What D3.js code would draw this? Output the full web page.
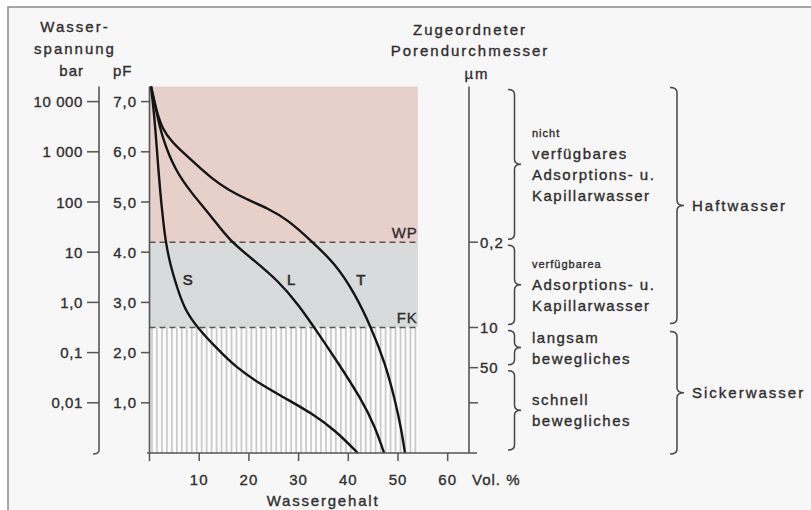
<!DOCTYPE html>
<html>
<head>
<meta charset="utf-8">
<script src="https://cdnjs.cloudflare.com/ajax/libs/d3/7.8.5/d3.min.js"></script>
<style>
  body { margin: 0; background: #ffffff; }
  svg text { font-family: "Liberation Sans", Arial, sans-serif; fill: #2e2e2e; stroke: #2e2e2e; stroke-width: 0.35px; }
</style>
</head>
<body>
<div id="container"></div>
<script>
// ---- data ----
var pfTicks = [7, 6, 5, 4, 3, 2, 1];
var pfLabels = ["7,0", "6,0", "5,0", "4.0", "3,0", "2,0", "1,0"];
var barLabels = ["10 000", "1 000", "100", "10", "1,0", "0,1", "0,01"];
var volTicks = [0, 10, 20, 30, 40, 50, 60];
var volLabels = ["", "10", "20", "30", "40", "50", "60"];
var poreTicks = [4.2, 2.5, 1.7, 1.0];
var poreLabels = ["0,2", "10", "50", ""];

var topPF = 7.3, wpPF = 4.2, fkPF = 2.5, shadeVol = 54;

// water content (Vol.%) vs pF
var curveS = [[0.3, 7.3], [0.9, 6.8], [1.45, 6.1], [2.1, 5.24], [2.8, 4.58], [3.25, 4.22], [4.1, 3.78],
  [5.5, 3.31], [7.1, 2.85], [9.8, 2.48], [13.2, 2.12], [17.2, 1.72], [22.6, 1.35], [27.9, 1.06],
  [32.6, 0.79], [37.3, 0.46], [41.9, 0]];
var curveL = [[0.3, 7.3], [1.4, 6.8], [2.5, 6.3], [5.1, 5.64], [8.5, 5.17], [12.5, 4.71], [16.0, 4.24],
  [21.0, 3.84], [26.0, 3.42], [30.0, 2.95], [33.3, 2.48], [38.0, 1.79], [42.7, 1.06], [45.4, 0.52], [47.2, 0]];
var curveT = [[0.3, 7.3], [1.4, 6.82], [2.6, 6.45], [4.5, 6.2], [6.8, 5.98], [9.15, 5.77], [12.5, 5.47], [15.9, 5.24],
  [19.2, 5.07], [23.9, 4.87], [27.9, 4.64], [32.6, 4.22], [37.3, 3.78], [41.3, 3.18], [44.7, 2.48],
  [47.4, 1.79], [49.4, 1.06], [50.7, 0.46], [51.4, 0]];
var curveNames = ["S", "L", "T"];
var curveLabelPos = [[7.7, 3.45], [28.5, 3.45], [42.5, 3.45]];

var innerBraces = [[topPF, wpPF], [wpPF, fkPF], [fkPF, 1.7], [1.7, 0]];
var innerTexts = [["nicht", "verfügbares", "Adsorptions- u.", "Kapillarwasser"],
  ["verfügbarea", "Adsorptions- u.", "Kapillarwasser"],
  ["langsam", "bewegliches"],
  ["schnell", "bewegliches"]];
var smallLines = ["nicht", "verfügbarea"];
var outerBraces = [[topPF, fkPF], [fkPF, 0]];
var outerTexts = ["Haftwasser", "Sickerwasser"];

// ---- canvas ----
var svg = d3.select("#container").append("svg")
  .attr("width", 811).attr("height", 510);

svg.append("rect").attr("x", 8).attr("y", 7).attr("width", 803).attr("height", 503)
  .attr("fill", "#f8f7f7");
svg.append("path").attr("d", "M8,510 L8,7 L811,7")
  .attr("fill", "none").attr("stroke", "#8a8a8a").attr("stroke-width", 1.5);

var x = d3.scaleLinear().domain([0, 60]).range([149.5, 447.7]);
var y = d3.scaleLinear().domain([0, 7]).range([453, 101.6]);

// ---- shaded zones ----
svg.append("rect").attr("x", x(0)).attr("y", y(topPF))
  .attr("width", x(shadeVol) - x(0)).attr("height", y(wpPF) - y(topPF))
  .attr("fill", "#e8d0ca");
svg.append("rect").attr("x", x(0)).attr("y", y(wpPF))
  .attr("width", x(shadeVol) - x(0)).attr("height", y(fkPF) - y(wpPF))
  .attr("fill", "#d8dbdb");
svg.append("rect").attr("x", x(0)).attr("y", y(fkPF))
  .attr("width", x(shadeVol) - x(0)).attr("height", y(0) - y(fkPF))
  .attr("fill", "#fbfbfb");
svg.append("g").selectAll("line").data(d3.range(0.5, shadeVol, 1)).join("line")
  .attr("x1", function(d) { return x(d); }).attr("x2", function(d) { return x(d); })
  .attr("y1", y(fkPF)).attr("y2", y(0))
  .attr("stroke", "#c9c9c9").attr("stroke-width", 1.7);

// dashed WP / FK lines
[wpPF, fkPF].forEach(function(p) {
  svg.append("line").attr("x1", x(0)).attr("x2", x(shadeVol))
    .attr("y1", y(p)).attr("y2", y(p))
    .attr("stroke", "#555").attr("stroke-width", 1.5).attr("stroke-dasharray", "6,4");
});
svg.append("text").attr("x", x(shadeVol)).attr("y", y(wpPF) - 10)
  .attr("text-anchor", "end").attr("dominant-baseline", "central")
  .style("font-size", "15px").style("letter-spacing", "1px").text("WP");
svg.append("text").attr("x", x(shadeVol)).attr("y", y(fkPF) - 10)
  .attr("text-anchor", "end").attr("dominant-baseline", "central")
  .style("font-size", "15px").style("letter-spacing", "1px").text("FK");

// ---- curves ----
var line = d3.line()
  .x(function(d) { return x(d[0]); })
  .y(function(d) { return y(d[1]); })
  .curve(d3.curveBasis);
[curveS, curveL, curveT].forEach(function(c) {
  svg.append("path").attr("d", line(c))
    .attr("fill", "none").attr("stroke", "#141414").attr("stroke-width", 2.4);
});
curveNames.forEach(function(n, i) {
  svg.append("text").attr("x", x(curveLabelPos[i][0])).attr("y", y(curveLabelPos[i][1]))
    .attr("text-anchor", "middle").attr("dominant-baseline", "central")
    .style("font-size", "15px").style("stroke-width", "0.6px").text(n);
});

// ---- x axis ----
svg.append("line").attr("x1", 147).attr("x2", 477).attr("y1", y(0)).attr("y2", y(0))
  .attr("stroke", "#555").attr("stroke-width", 1.6);
svg.append("line").attr("x1", x(0)).attr("x2", x(0)).attr("y1", y(topPF)).attr("y2", y(0))
  .attr("stroke", "#555").attr("stroke-width", 1.6);
volTicks.forEach(function(v, i) {
  svg.append("line").attr("x1", x(v)).attr("x2", x(v)).attr("y1", y(0)).attr("y2", y(0) + 8)
    .attr("stroke", "#555").attr("stroke-width", 1.5);
  svg.append("text").attr("x", x(v)).attr("y", 479)
    .attr("text-anchor", "middle").attr("dominant-baseline", "central")
    .style("font-size", "15px").style("letter-spacing", "1px").text(volLabels[i]);
});
svg.append("text").attr("x", 472).attr("y", 479).attr("dominant-baseline", "central")
  .style("font-size", "15px").style("letter-spacing", "1px").text("Vol. %");
svg.append("text").attr("x", 323).attr("y", 500)
  .attr("text-anchor", "middle").attr("dominant-baseline", "central")
  .style("font-size", "15px").style("letter-spacing", "1.8px").text("Wassergehalt");

// ---- left axes (bar and pF) ----
svg.append("path").attr("d", "M99," + y(topPF) + " L99," + (y(0) - 3) + " Q99," + (y(0) + 1) + " 93," + (y(0) + 1))
  .attr("fill", "none").attr("stroke", "#555").attr("stroke-width", 1.6);
pfTicks.forEach(function(p, i) {
  svg.append("line").attr("x1", 87).attr("x2", 99).attr("y1", y(p)).attr("y2", y(p))
    .attr("stroke", "#555").attr("stroke-width", 1.5);
  svg.append("line").attr("x1", 141).attr("x2", x(0)).attr("y1", y(p)).attr("y2", y(p))
    .attr("stroke", "#555").attr("stroke-width", 1.5);
  svg.append("text").attr("x", 83).attr("y", y(p))
    .attr("text-anchor", "end").attr("dominant-baseline", "central")
    .style("font-size", "15px").style("letter-spacing", "0.6px").text(barLabels[i]);
  svg.append("text").attr("x", 137).attr("y", y(p))
    .attr("text-anchor", "end").attr("dominant-baseline", "central")
    .style("font-size", "15px").style("letter-spacing", "1px").text(pfLabels[i]);
});
var leftHead = [["Wasser-", 75, 26, "middle", "2px"], ["spannung", 75, 48, "middle", "2px"],
  ["bar", 84, 70, "end", "1px"], ["pF", 113, 70, "start", "1px"]];
leftHead.forEach(function(h) {
  svg.append("text").attr("x", h[1]).attr("y", h[2])
    .attr("text-anchor", h[3]).attr("dominant-baseline", "central")
    .style("font-size", "15px").style("letter-spacing", h[4]).text(h[0]);
});

// ---- pore diameter axis ----
svg.append("line").attr("x1", 469).attr("x2", 469).attr("y1", y(topPF)).attr("y2", y(0))
  .attr("stroke", "#555").attr("stroke-width", 1.6);
poreTicks.forEach(function(p, i) {
  svg.append("line").attr("x1", 469).attr("x2", 478).attr("y1", y(p)).attr("y2", y(p))
    .attr("stroke", "#555").attr("stroke-width", 1.5);
  svg.append("text").attr("x", 480).attr("y", y(p))
    .attr("dominant-baseline", "central")
    .style("font-size", "15px").style("letter-spacing", "1px").text(poreLabels[i]);
});
var rightHead = [["Zugeordneter", 470, 29], ["Porendurchmesser", 470, 50], ["µm", 477, 73]];
rightHead.forEach(function(h) {
  svg.append("text").attr("x", h[1]).attr("y", h[2])
    .attr("text-anchor", "middle").attr("dominant-baseline", "central")
    .style("font-size", "15px").style("letter-spacing", "2px").text(h[0]);
});

// ---- braces ----
function brace(x0, ya, yb, w) {
  var xm = x0 + w * 0.5, xt = x0 + w, ym = (ya + yb) / 2, r = 5;
  return "M" + x0 + "," + ya + " Q" + xm + "," + ya + " " + xm + "," + (ya + r) +
    " L" + xm + "," + (ym - r) + " Q" + xm + "," + ym + " " + xt + "," + ym +
    " Q" + xm + "," + ym + " " + xm + "," + (ym + r) +
    " L" + xm + "," + (yb - r) + " Q" + xm + "," + yb + " " + x0 + "," + yb;
}
innerBraces.forEach(function(b, i) {
  var ya = y(b[0]) + 3, yb = y(b[1]) - 3;
  svg.append("path").attr("d", brace(508, ya, yb, 13))
    .attr("fill", "none").attr("stroke", "#444").attr("stroke-width", 1.5);
  var lines = innerTexts[i], mid = (ya + yb) / 2, lh = 21;
  lines.forEach(function(t, j) {
    var small = smallLines.indexOf(t) >= 0;
    svg.append("text").attr("x", 532).attr("y", mid + (j - (lines.length - 1) / 2) * lh)
      .attr("dominant-baseline", "central")
      .style("font-size", small ? "11px" : "15px")
      .style("letter-spacing", small ? "1px" : "1.5px").text(t);
  });
});
outerBraces.forEach(function(b, i) {
  var ya = y(b[0]) + 1, yb = y(b[1]) + 1;
  if (i == 0) yb = y(b[1]) - 4; else ya = y(b[0]) + 4;
  svg.append("path").attr("d", brace(670, ya, yb, 14))
    .attr("fill", "none").attr("stroke", "#444").attr("stroke-width", 1.5);
  svg.append("text").attr("x", 692).attr("y", (ya + yb) / 2)
    .attr("dominant-baseline", "central")
    .style("font-size", "15px").style("letter-spacing", "2px").text(outerTexts[i]);
});
</script>
</body>
</html>
